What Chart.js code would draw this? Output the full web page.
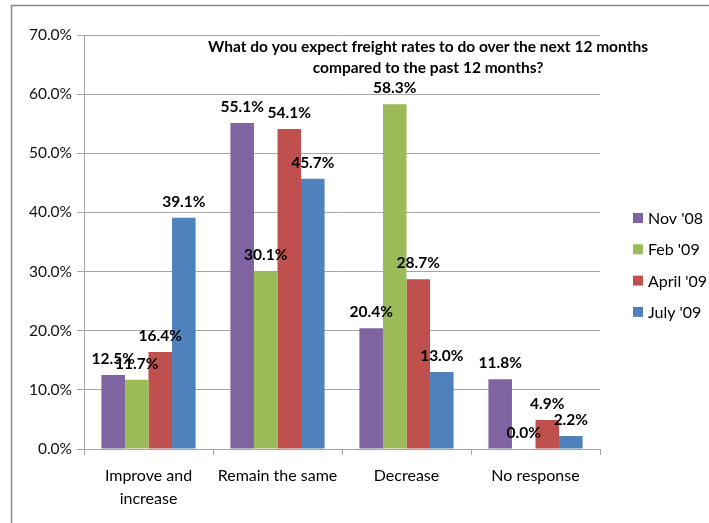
<!DOCTYPE html>
<html lang="en">
<head>
<meta charset="UTF-8">
<title>Freight rates outlook</title>
<script src="https://cdn.jsdelivr.net/npm/chart.js"></script>
<style>
    body { margin: 0; background: #fff; }
</style>
</head>
<body>
<canvas id="myChart" width="709" height="523"></canvas>
<script>
    // survey answers, percent
    const categories = [['Improve and', 'increase'], 'Remain the same', 'Decrease', 'No response'];
    const seriesNames = ["Nov '08", "Feb '09", "April '09", "July '09"];
    const nov08 = [12.5, 55.1, 20.4, 11.8];
    const feb09 = [11.7, 30.1, 58.3, 0.0];
    const apr09 = [16.4, 54.1, 28.7, 4.9];
    const jul09 = [39.1, 45.7, 13.0, 2.2];
    const yTicks = [0, 10, 20, 30, 40, 50, 60, 70];
    const titleLines = ['What do you expect freight rates to do over the next 12 months',
                        'compared to the past 12 months?'];

    const colors = ['#8064A2', '#9BBB59', '#C0504D', '#4F81BD'];
    const fontFamily = 'Lato, "Open Sans", sans-serif';
    const gridColor = '#a6a6a6';

    const seriesValues = [nov08, feb09, apr09, jul09];
    const datasets = seriesValues.map((vals, i) => ({
        label: seriesNames[i],
        data: vals,
        backgroundColor: colors[i],
        borderWidth: 0
    }));

    // grey frame round the whole chart
    const framePlugin = {
        id: 'frame',
        beforeDraw(chart) {
            const ctx = chart.ctx;
            ctx.save();
            ctx.strokeStyle = '#8c8c8c';
            ctx.lineWidth = 1.5;
            ctx.strokeRect(11.5, 5.5, 760, 560);
            ctx.restore();
        }
    };

    // value labels over each bar
    const barLabels = {
        id: 'barLabels',
        afterDatasetsDraw(chart) {
            const ctx = chart.ctx;
            ctx.save();
            ctx.font = 'bold 15.5px ' + fontFamily;
            ctx.fillStyle = '#000';
            ctx.textAlign = 'center';
            ctx.textBaseline = 'middle';
            chart.data.datasets.forEach((ds, i) => {
                chart.getDatasetMeta(i).data.forEach((bar, j) => {
                    ctx.fillText(ds.data[j].toFixed(1) + '%', bar.x, bar.y - 16);
                });
            });
            ctx.restore();
        }
    };

    // title sits inside the plot, legend on the right
    const titleAndLegend = {
        id: 'titleAndLegend',
        afterDraw(chart) {
            const ctx = chart.ctx;
            ctx.save();
            ctx.fillStyle = '#000';
            ctx.textAlign = 'center';
            ctx.textBaseline = 'middle';
            ctx.font = 'bold 15.5px ' + fontFamily;
            ctx.fillText(titleLines[0], 428, 47);
            ctx.fillText(titleLines[1], 428, 68);

            ctx.textAlign = 'left';
            ctx.font = '16px ' + fontFamily;
            chart.data.datasets.forEach((ds, i) => {
                const y = 218 + i * 31.3;
                ctx.fillStyle = ds.backgroundColor;
                ctx.fillRect(633, y - 5, 10, 10);
                ctx.fillStyle = '#000';
                ctx.fillText(ds.label, 648, y + 1);
            });
            ctx.restore();
        }
    };

    new Chart(document.getElementById('myChart'), {
        type: 'bar',
        data: {
            labels: categories,
            datasets: datasets
        },
        options: {
            responsive: false,
            animation: false,
            layout: { padding: { left: 0, top: 35, right: 109, bottom: 0 } },
            datasets: { bar: { categoryPercentage: 0.73, barPercentage: 1.0 } },
            plugins: {
                legend: { display: false },
                title: { display: false },
                tooltip: { enabled: false }
            },
            scales: {
                x: {
                    afterFit: s => { s.height = 74; },
                    grid: {
                        display: true,
                        drawOnChartArea: false,
                        offset: true,
                        color: gridColor,
                        tickLength: 6
                    },
                    border: { color: gridColor },
                    ticks: {
                        color: '#000',
                        font: { family: fontFamily, size: 16, lineHeight: 1.4 },
                        padding: 10,
                        maxRotation: 0,
                        autoSkip: false
                    }
                },
                y: {
                    min: yTicks[0],
                    max: yTicks[yTicks.length - 1],
                    afterFit: s => { s.width = 84; },
                    afterBuildTicks: s => { s.ticks = yTicks.map(v => ({ value: v })); },
                    grid: { color: gridColor, tickLength: 7 },
                    border: { color: gridColor },
                    ticks: {
                        color: '#111',
                        font: { family: fontFamily, size: 15.5 },
                        padding: 5,
                        callback: v => v.toFixed(1) + '%'
                    }
                }
            }
        },
        plugins: [framePlugin, barLabels, titleAndLegend]
    });
</script>
</body>
</html>
